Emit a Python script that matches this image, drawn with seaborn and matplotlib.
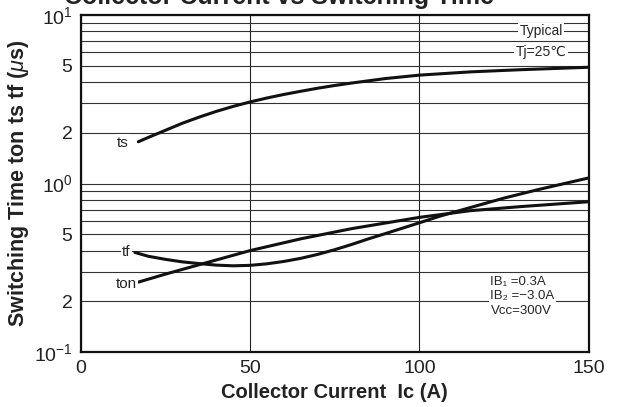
import numpy as np
import pandas as pd
import seaborn as sns
import matplotlib.pyplot as plt
from matplotlib.ticker import FixedLocator, NullFormatter

# --- data ---
ic_ts = [17, 20, 25, 30, 35, 40, 45, 50, 55, 60, 65, 70, 75, 80, 90, 100, 115, 130, 150]
ts = [1.77, 1.88, 2.07, 2.28, 2.48, 2.68, 2.87, 3.05, 3.22, 3.38, 3.53, 3.68, 3.82, 3.95,
      4.2, 4.4, 4.6, 4.74, 4.9]

ic_tf = [16, 20, 25, 30, 35, 40, 45, 50, 55, 60, 65, 70, 75, 80, 85, 90, 100, 106, 115,
         125, 135, 150]
tf = [0.39, 0.37, 0.355, 0.343, 0.335, 0.328, 0.325, 0.327, 0.334, 0.345, 0.36, 0.38,
      0.405, 0.435, 0.47, 0.505, 0.585, 0.64, 0.72, 0.82, 0.92, 1.08]

ic_ton = [17, 25, 35, 50, 65, 80, 100, 115, 130, 150]
ton = [0.26, 0.29, 0.33, 0.40, 0.47, 0.54, 0.63, 0.69, 0.73, 0.78]

x_ticks = [0, 50, 100, 150]
y_major = [0.1, 0.2, 0.5, 1, 2, 5, 10]
y_labels = ['10$^{-1}$', '2', '5', '10$^{0}$', '2', '5', '10$^{1}$']
y_minor = [0.3, 0.4, 0.6, 0.7, 0.8, 0.9, 3, 4, 6, 7, 8, 9]

sns.set_style("white")
plt.rcParams['font.family'] = ['Liberation Sans', 'DejaVu Sans']
plt.rcParams['mathtext.fontset'] = 'custom'
plt.rcParams['mathtext.rm'] = 'Liberation Sans'
plt.rcParams['mathtext.it'] = 'Liberation Sans:italic'

fig = plt.figure(figsize=(6.21, 4.07), dpi=100)
ax = fig.add_axes([0.130, 0.135, 0.818, 0.828])

for xs, ys in [(ic_ts, ts), (ic_tf, tf), (ic_ton, ton)]:
    sns.lineplot(x=xs, y=ys, ax=ax, color='#111111', lw=2.2)

ax.set_yscale('log')
ax.set_xlim(0, 150)
ax.set_ylim(0.1, 10)
ax.set_xticks(x_ticks)
ax.yaxis.set_major_locator(FixedLocator(y_major))
ax.set_yticklabels(y_labels)
ax.yaxis.set_minor_locator(FixedLocator(y_minor))
ax.yaxis.set_minor_formatter(NullFormatter())
ax.tick_params(axis='both', which='both', length=0, labelsize=14, colors='#222222', pad=6)

ax.grid(True, axis='x', color='#222222', lw=0.8)
ax.grid(True, axis='y', which='both', color='#333333', lw=0.8)
for s in ax.spines.values():
    s.set_color('#111111')
    s.set_linewidth(1.6)

ax.set_xlabel('Collector Current  Ic (A)', fontsize=14.5, fontweight='bold', color='#222222', labelpad=4)
ax.set_ylabel('Switching Time ton ts tf ($\\mu$s)', fontsize=15.5, fontweight='bold', color='#222222', labelpad=2)
fig.text(0.45, 1.008, 'Collector Current vs Switching Time', fontsize=18, fontweight='bold',
         ha='center', va='center', color='#222222')

box = dict(facecolor='white', edgecolor='none', pad=1)
ax.text(12.5, 1.75, 'ts', fontsize=11, ha='center', va='center', bbox=box)
ax.text(13.5, 0.39, 'tf', fontsize=11, ha='center', va='center', bbox=box)
ax.text(13.5, 0.255, 'ton', fontsize=11, ha='center', va='center', bbox=box)
ax.text(136, 8.0, 'Typical', fontsize=10, ha='center', va='center', bbox=box)
ax.text(136, 6.0, 'Tj=25\u2103', fontsize=10, ha='center', va='center', bbox=box)
ax.text(121, 0.262, 'IB\u2081 =0.3A', fontsize=9.5, ha='left', va='center', bbox=box)
ax.text(121, 0.214, 'IB\u2082 =\u22123.0A', fontsize=9.5, ha='left', va='center', bbox=box)
ax.text(121, 0.176, 'Vcc=300V', fontsize=9.5, ha='left', va='center', bbox=box)

fig.savefig('out.png', dpi=100)
